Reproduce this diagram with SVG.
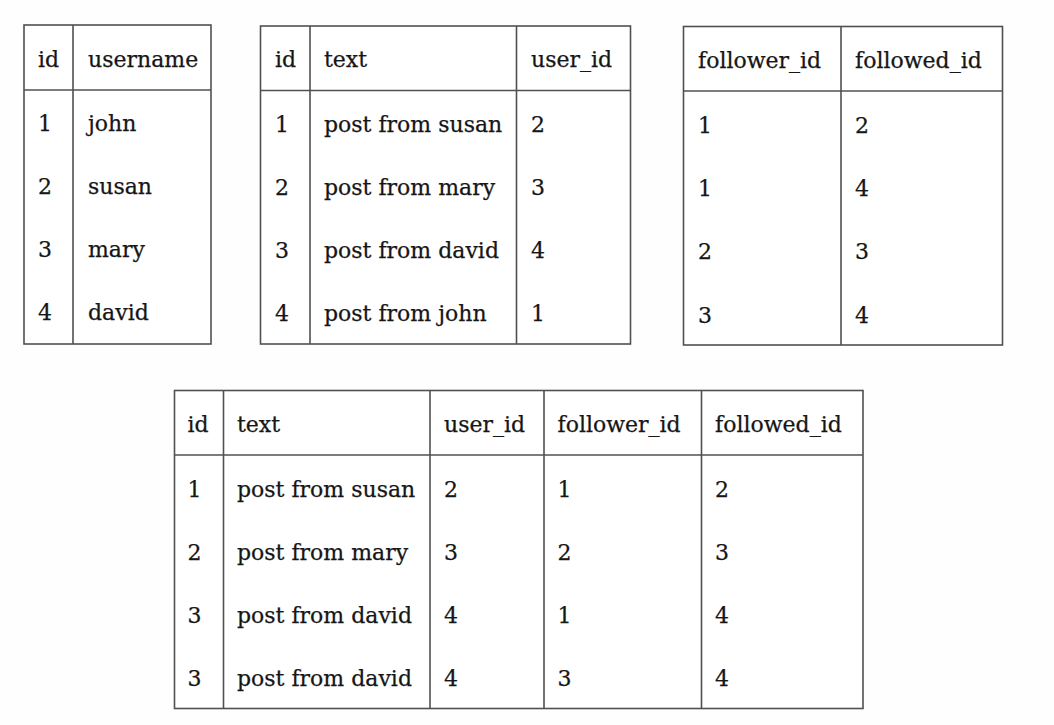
<svg xmlns="http://www.w3.org/2000/svg" width="1054" height="725" viewBox="0 0 1054 725">
<style>
.bg{fill:#fefefe}
.box{fill:#ffffff;stroke:#505050;stroke-width:1.6}
.ln{stroke:#505050;stroke-width:1.6;fill:none}
text{font-family:"DejaVu Serif","Liberation Serif",serif;font-size:22px;fill:#161616;stroke:#161616;stroke-width:0.25}
</style>
<rect class="bg" x="0" y="0" width="1054" height="725"/>
<g id="users">
<rect class="box" x="24" y="25" width="187" height="319"/>
<line class="ln" x1="24" y1="90" x2="211" y2="90"/>
<line class="ln" x1="73" y1="25" x2="73" y2="344"/>
<text x="38" y="67">id</text><text x="88" y="67">username</text>
<text x="38" y="131">1</text><text x="88" y="131">john</text>
<text x="38" y="194">2</text><text x="88" y="194">susan</text>
<text x="38" y="257">3</text><text x="88" y="257">mary</text>
<text x="38" y="320">4</text><text x="88" y="320">david</text>
</g>
<g id="posts">
<rect class="box" x="260.5" y="26" width="370" height="318"/>
<line class="ln" x1="260.5" y1="90.5" x2="630.5" y2="90.5"/>
<line class="ln" x1="310" y1="26" x2="310" y2="344"/>
<line class="ln" x1="516.5" y1="26" x2="516.5" y2="344"/>
<text x="275" y="67">id</text><text x="324" y="67">text</text><text x="531" y="67">user_id</text>
<text x="275" y="132">1</text><text x="324" y="132">post from susan</text><text x="531" y="132">2</text>
<text x="275" y="195">2</text><text x="324" y="195">post from mary</text><text x="531" y="195">3</text>
<text x="275" y="258">3</text><text x="324" y="258">post from david</text><text x="531" y="258">4</text>
<text x="275" y="321">4</text><text x="324" y="321">post from john</text><text x="531" y="321">1</text>
</g>
<g id="follows">
<rect class="box" x="683.5" y="26.5" width="319" height="318.5"/>
<line class="ln" x1="683.5" y1="91" x2="1002.5" y2="91"/>
<line class="ln" x1="841" y1="26.5" x2="841" y2="345"/>
<text x="698" y="68">follower_id</text><text x="855" y="68">followed_id</text>
<text x="698" y="133">1</text><text x="855" y="133">2</text>
<text x="698" y="196">1</text><text x="855" y="196">4</text>
<text x="698" y="259">2</text><text x="855" y="259">3</text>
<text x="698" y="323">3</text><text x="855" y="323">4</text>
</g>
<g id="joined">
<rect class="box" x="174.5" y="390.5" width="688.5" height="318"/>
<line class="ln" x1="174.5" y1="455" x2="863" y2="455"/>
<line class="ln" x1="223.5" y1="390.5" x2="223.5" y2="708.5"/>
<line class="ln" x1="430" y1="390.5" x2="430" y2="708.5"/>
<line class="ln" x1="544" y1="390.5" x2="544" y2="708.5"/>
<line class="ln" x1="701.5" y1="390.5" x2="701.5" y2="708.5"/>
<text x="187.5" y="432">id</text><text x="237" y="432">text</text><text x="444" y="432">user_id</text><text x="557.5" y="432">follower_id</text><text x="715" y="432">followed_id</text>
<text x="187.5" y="497">1</text><text x="237" y="497">post from susan</text><text x="444" y="497">2</text><text x="557.5" y="497">1</text><text x="715" y="497">2</text>
<text x="187.5" y="560">2</text><text x="237" y="560">post from mary</text><text x="444" y="560">3</text><text x="557.5" y="560">2</text><text x="715" y="560">3</text>
<text x="187.5" y="623">3</text><text x="237" y="623">post from david</text><text x="444" y="623">4</text><text x="557.5" y="623">1</text><text x="715" y="623">4</text>
<text x="187.5" y="686">3</text><text x="237" y="686">post from david</text><text x="444" y="686">4</text><text x="557.5" y="686">3</text><text x="715" y="686">4</text>
</g>
<g id="connectors"></g>
</svg>
